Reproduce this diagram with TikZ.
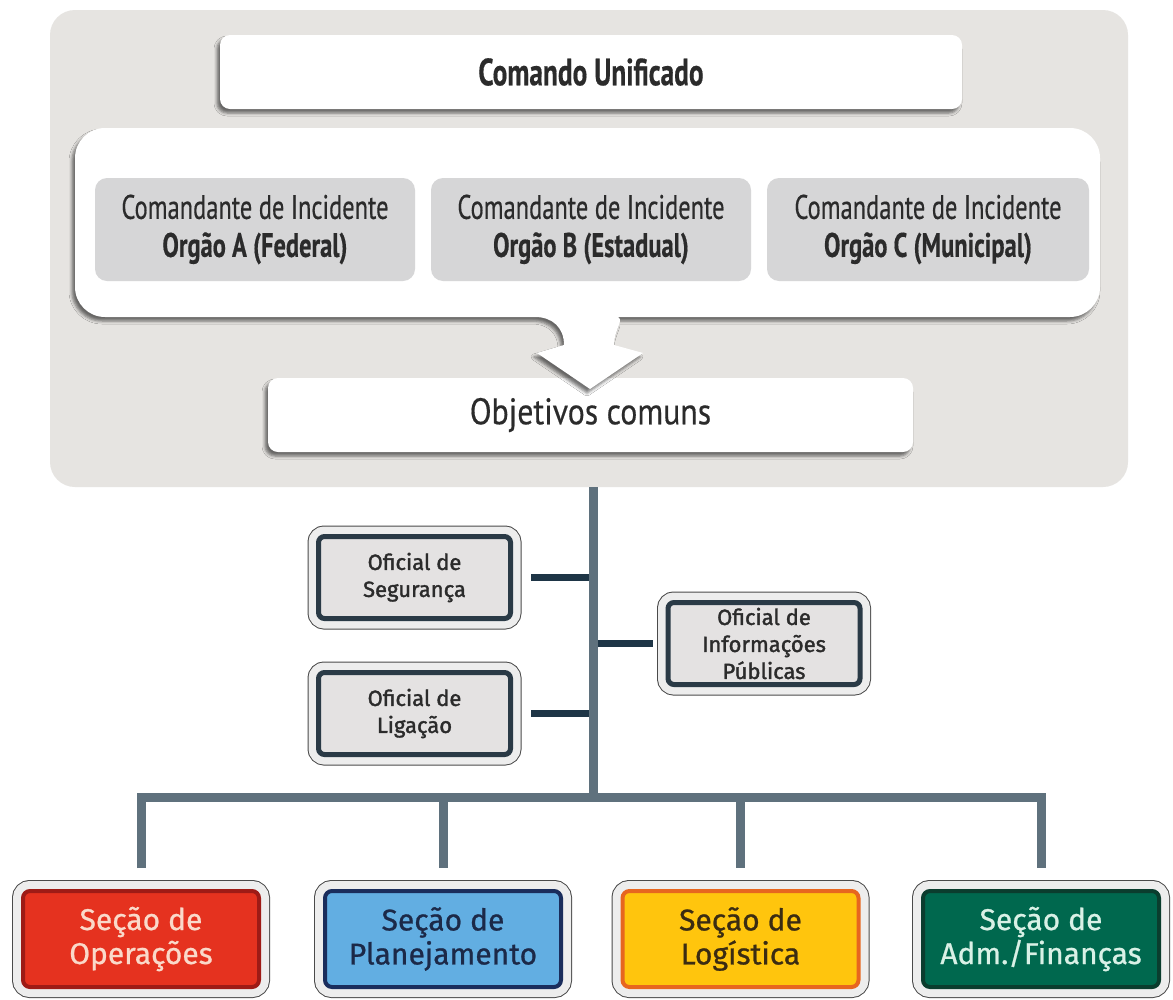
\documentclass[tikz,border=0pt]{standalone}
\usepackage{fontspec}
\setmainfont{PT Sans}
\newfontfamily\condfont[FakeStretch=0.72, FakeBold=0.4]{PT Sans}
\newfontfamily\widecondfont[FakeStretch=0.86, FakeBold=0.4]{PT Sans}
\newfontfamily\labelfont[FakeBold=0.8]{Fira Sans}
\newfontfamily\stafffont[FakeBold=1.6]{Fira Sans}
\usetikzlibrary{shadows.blur}

\definecolor{panelgray}{HTML}{E6E4E1}
\definecolor{cellgray}{HTML}{D6D6D7}
\definecolor{inkdark}{HTML}{2B2B2B}
\definecolor{trunkgray}{HTML}{5F717D}
\definecolor{branchnavy}{HTML}{1E3546}
\definecolor{officerrim}{HTML}{2A3A46}
\definecolor{officerfill}{HTML}{E4E2E2}
\definecolor{framerim}{HTML}{4A4A4A}
\definecolor{framefill}{HTML}{EDEDED}
\definecolor{opsfill}{HTML}{E5321F}
\definecolor{opsrim}{HTML}{9E1B16}
\definecolor{opstext}{HTML}{FAD9CA}
\definecolor{planfill}{HTML}{62AEE2}
\definecolor{planrim}{HTML}{1A2D5C}
\definecolor{plantext}{HTML}{1C2948}
\definecolor{logfill}{HTML}{FFC50D}
\definecolor{logrim}{HTML}{E7661F}
\definecolor{logtext}{HTML}{3B2C12}
\definecolor{admfill}{HTML}{00684E}
\definecolor{admrim}{HTML}{0B3D2E}
\definecolor{admtext}{HTML}{D9F1E6}

\tikzset{
  softshadow/.style={blur shadow={shadow xshift=-3pt, shadow yshift=-4pt,
      shadow opacity=55, shadow blur radius=3pt}},
  panel/.style={fill=panelgray, rounded corners=25pt, minimum width=1078pt,
      minimum height=477pt},
  whitebox/.style={fill=white, rounded corners=10pt, softshadow, text=inkdark},
  cell/.style={fill=cellgray, rounded corners=12pt, minimum height=103pt,
      align=center, text=inkdark, font=\condfont\fontsize{34}{38}\selectfont},
  officer/.style={draw=officerrim, line width=5pt, fill=officerfill,
      rounded corners=6pt, minimum width=192pt, minimum height=82pt,
      align=center, text=inkdark, font=\stafffont\fontsize{22}{27}\selectfont,
      preaction={draw=framerim, line width=22pt},
      preaction={draw=framefill, line width=20pt}},
  section/.style={line width=4pt, rounded corners=7pt, minimum width=236pt,
      minimum height=96pt, align=center,
      font=\labelfont\fontsize{30}{34}\selectfont,
      preaction={draw=framerim, line width=22pt},
      preaction={draw=framefill, line width=20pt}},
  bus/.style={draw=trunkgray, line width=9pt, line cap=butt},
  branch/.style={draw=branchnavy, line width=7pt, line cap=butt},
}

\begin{document}
\begin{tikzpicture}[x=1pt,y=-1pt]
  \useasboundingbox (0,0) rectangle (1173,999);
  \fill[white] (0,0) rectangle (1173,999);

  % unified command panel
  \node[panel] (panel) at (589,248.5) {};
  \node[whitebox, minimum width=742pt, minimum height=74pt,
        font=\condfont\bfseries\fontsize{38}{42}\selectfont]
        (cmd) at (591,72) {Comando Unificado};

  \node[whitebox, minimum width=645pt, minimum height=74pt,
        font=\widecondfont\fontsize{37}{42}\selectfont]
        (obj) at (590.5,415) {Objetivos comuns};

  % callout holding the three incident commanders, with its arrow
  \path[fill=white, softshadow]
    (75,200) [rounded corners=30pt] -- (75,128) -- (1100,128) -- (1100,317)
    -- (645,317) [sharp corners]
    .. controls (627,317) and (614,328) .. (614,345)
    -- (643,353) -- (590,389) -- (537,353) -- (564,345)
    .. controls (564,328) and (553,317) .. (535,317)
    [rounded corners=30pt] -- (75,317) -- cycle;

  \node[cell, minimum width=320pt] (orgA) at (255,229.5)
        {Comandante de Incidente\\\textbf{Orgão A (Federal)}};
  \node[cell, minimum width=320pt] (orgB) at (591,229.5)
        {Comandante de Incidente\\\textbf{Orgão B (Estadual)}};
  \node[cell, minimum width=322pt] (orgC) at (928,229.5)
        {Comandante de Incidente\\\textbf{Orgão C (Municipal)}};

  % command staff
  \node[officer] (seg)  at (414.5,577.5) {Oficial de\\Segurança};
  \node[officer] (lig)  at (414.5,713.5) {Oficial de\\Ligação};
  \node[officer] (info) at (764,643.5)   {Oficial de\\Informações\\Públicas};

  % general staff sections
  \node[section, draw=opsrim,  fill=opsfill,  text=opstext]  (ops)  at (141,939)   {Seção de\\Operações};
  \node[section, draw=planrim, fill=planfill, text=plantext] (plan) at (443,939)   {Seção de\\Planejamento};
  \node[section, draw=logrim,  fill=logfill,  text=logtext]  (log)  at (740.5,939) {Seção de\\Logística};
  \node[section, draw=admrim,  fill=admfill,  text=admtext]  (adm)  at (1041,939)  {Seção de\\Adm./Finanças};

  \coordinate (hub) at (593,797);

  % staff branches
  \draw[branch, shorten >=18pt] (seg.east -| hub) -- (seg.east);
  \draw[branch, shorten >=18pt] (lig.east -| hub) -- (lig.east);
  \draw[branch, shorten >=13pt] (info.west -| hub) -- (info.west);

  % main line and section bus
  \draw[bus] (panel.south -| hub) -- (hub);
  \draw[bus, shorten <=21pt, shorten >=21pt] (ops.north) |- (hub) -| (adm.north);
  \draw[bus, shorten >=21pt] (plan.north |- hub) -- (plan.north);
  \draw[bus, shorten >=21pt] (log.north |- hub) -- (log.north);
\end{tikzpicture}
\end{document}
